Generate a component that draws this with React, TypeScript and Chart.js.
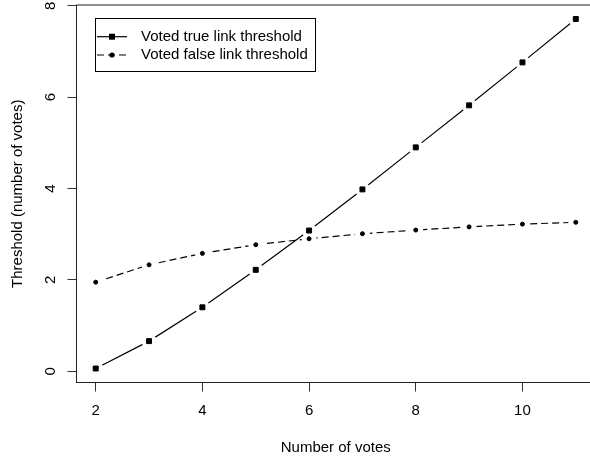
import React, { useEffect, useRef } from 'react';
import { Chart, registerables } from 'chart.js';

Chart.register(...registerables);

const votes = [2, 3, 4, 5, 6, 7, 8, 9, 10, 11];
const trueThreshold = [0.06, 0.66, 1.40, 2.22, 3.08, 3.98, 4.90, 5.82, 6.76, 7.71];
const falseThreshold = [1.95, 2.33, 2.58, 2.77, 2.90, 3.01, 3.09, 3.16, 3.22, 3.26];
const xTicks = [2, 4, 6, 8, 10];
const yTicks = [0, 2, 4, 6, 8];
const seriesLabels = ['Voted true link threshold', 'Voted false link threshold'];
const xTitle = 'Number of votes';
const yTitle = 'Threshold (number of votes)';

const FONT = "'Liberation Sans', Arial, Helvetica, sans-serif";
const GAP = 7.5;

function padRange(vals: number[]): [number, number] {
  const lo = Math.min(...vals);
  const hi = Math.max(...vals);
  const d = (hi - lo) * 0.04;
  return [lo - d, hi + d];
}

const [xMin, xMax] = padRange(votes);
const [yMin, yMax] = padRange([...trueThreshold, ...falseThreshold]);

const gapPlugin = {
  id: 'rgaps',
  beforeDatasetDraw(chart: any, args: any) {
    const ctx = chart.ctx;
    ctx.save();
    ctx.beginPath();
    ctx.rect(0, 0, chart.width, chart.height);
    args.meta.data.forEach((p: any) => {
      ctx.moveTo(p.x + GAP, p.y);
      ctx.arc(p.x, p.y, GAP, 0, Math.PI * 2);
    });
    ctx.clip('evenodd');
  },
  afterDatasetDraw(chart: any, args: any) {
    chart.ctx.restore();
    args.meta.data.forEach((p: any) => p.draw(chart.ctx, chart.chartArea));
  },
};

const framePlugin = {
  id: 'rframe',
  beforeDatasetsDraw(chart: any) {
    const { ctx, chartArea } = chart;
    ctx.save();
    ctx.strokeStyle = '#222';
    ctx.lineWidth = 1;
    ctx.strokeRect(chartArea.left, chartArea.top, chartArea.right - chartArea.left, chartArea.bottom - chartArea.top);
    ctx.restore();
  },
};

const legendPlugin = {
  id: 'rlegend',
  afterDraw(chart: any) {
    const ctx = chart.ctx;
    ctx.save();
    ctx.strokeStyle = '#000';
    ctx.lineWidth = 1;
    ctx.strokeRect(95.5, 18.5, 220, 53);
    const rows = [36.7, 55];
    chart.data.datasets.forEach((ds: any, i: number) => {
      const y = rows[i];
      ctx.beginPath();
      ctx.setLineDash(ds.borderDash || []);
      ctx.lineWidth = ds.borderWidth;
      ctx.strokeStyle = ds.borderColor;
      ctx.moveTo(97, y);
      ctx.lineTo(127, y);
      ctx.stroke();
      ctx.setLineDash([]);
      ctx.fillStyle = '#000';
      if (ds.pointStyle === 'rect') {
        ctx.fillRect(109, y - 3, 6, 6);
      } else {
        ctx.beginPath();
        ctx.arc(112, y, 2.6, 0, Math.PI * 2);
        ctx.fill();
      }
      ctx.font = `15px ${FONT}`;
      ctx.textBaseline = 'middle';
      ctx.textAlign = 'left';
      ctx.fillText(ds.label, 141, y);
    });
    ctx.restore();
  },
};

export default function App() {
  const ref = useRef<HTMLCanvasElement | null>(null);

  useEffect(() => {
    if (!ref.current) return;
    const chart = new Chart(ref.current, {
      type: 'line',
      data: {
        datasets: [
          {
            label: seriesLabels[0],
            data: votes.map((v, i) => ({ x: v, y: trueThreshold[i] })),
            borderColor: '#000',
            borderWidth: 1.2,
            pointStyle: 'rect',
            pointRadius: 3.5,
            pointBackgroundColor: '#000',
            pointBorderColor: '#000',
            pointBorderWidth: 1,
            tension: 0,
            fill: false,
          },
          {
            label: seriesLabels[1],
            data: votes.map((v, i) => ({ x: v, y: falseThreshold[i] })),
            borderColor: '#000',
            borderWidth: 1.2,
            borderDash: [7, 4],
            pointStyle: 'circle',
            pointRadius: 2,
            pointBackgroundColor: '#000',
            pointBorderColor: '#000',
            pointBorderWidth: 1,
            tension: 0,
            fill: false,
          },
        ],
      },
      options: {
        responsive: false,
        animation: false,
        events: [],
        layout: { padding: { top: 4.5, right: 5, left: 0, bottom: 0 } },
        plugins: { legend: { display: false }, tooltip: { enabled: false } },
        scales: {
          x: {
            type: 'linear',
            min: xMin,
            max: xMax,
            afterBuildTicks: (s: any) => {
              s.ticks = xTicks.map((v) => ({ value: v }));
            },
            afterFit: (s: any) => {
              s.height = 76.5;
              s.paddingLeft = 0;
              s.paddingRight = 0;
            },
            grid: { drawOnChartArea: false, drawTicks: true, tickLength: 9, tickColor: '#333', tickWidth: 1 },
            border: { display: false },
            ticks: {
              color: '#000',
              font: { family: FONT, size: 15 },
              padding: 10.3,
              minRotation: 0,
              maxRotation: 0,
              autoSkip: false,
            },
            title: {
              display: true,
              text: xTitle,
              color: '#000',
              font: { family: FONT, size: 15 },
              padding: { top: 0, bottom: 2.3 },
            },
          },
          y: {
            type: 'linear',
            min: yMin,
            max: yMax,
            afterBuildTicks: (s: any) => {
              s.ticks = yTicks.map((v) => ({ value: v }));
            },
            afterFit: (s: any) => {
              s.width = 76.5;
              s.paddingTop = 0;
              s.paddingBottom = 0;
            },
            grid: { drawOnChartArea: false, drawTicks: true, tickLength: 9, tickColor: '#333', tickWidth: 1 },
            border: { display: false },
            ticks: {
              color: '#000',
              font: { family: FONT, size: 15 },
              padding: 12.3,
              minRotation: 90,
              maxRotation: 90,
              crossAlign: 'center',
              autoSkip: false,
            },
            title: {
              display: true,
              text: yTitle,
              color: '#000',
              font: { family: FONT, size: 15 },
              padding: { top: 9, bottom: 0 },
            },
          },
        },
      } as any,
      plugins: [gapPlugin, framePlugin, legendPlugin],
    });
    return () => chart.destroy();
  }, []);

  return (
    <div style={{ position: 'fixed', left: 0, top: 0, width: 600, height: 459, overflow: 'hidden', background: '#fff' }}>
      <canvas ref={ref} width={600} height={459} style={{ display: 'block' }} />
    </div>
  );
}
